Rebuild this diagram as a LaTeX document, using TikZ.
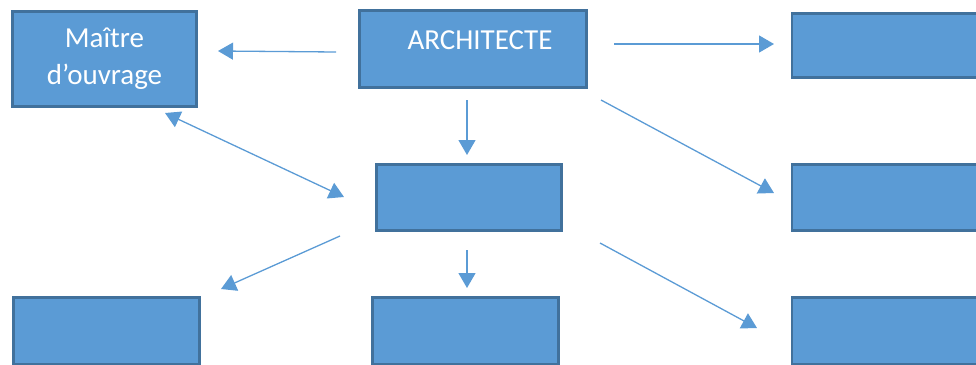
\documentclass[tikz,border=0pt]{standalone}
\usepackage{fontspec}
\setmainfont{Carlito}
\usetikzlibrary{arrows.meta}
\definecolor{boxfill}{HTML}{5B9BD5}
\definecolor{boxline}{HTML}{41719C}
\definecolor{arrowcol}{HTML}{5B9BD5}
\begin{document}
\begin{tikzpicture}[x=1pt,y=-1pt,
  box/.style={draw=boxline, fill=boxfill, line width=2.6pt, inner sep=0pt, text=white,
    font=\fontsize{29}{37}\selectfont, align=center},
  conn/.style={draw=arrowcol, line width=1.3pt, -{Triangle[length=15pt,width=17pt]}},
  conn2/.style={draw=arrowcol, line width=1.3pt, {Triangle[length=15pt,width=17pt]}-{Triangle[length=15pt,width=17pt]}}]
\useasboundingbox (0,0) rectangle (976,364);
\node[box, minimum width=184.5pt, minimum height=95.5pt] (m) at (104.5,59) {Maître\\d’ouvrage};
\node[box, minimum width=227.5pt, minimum height=77.5pt,
  label={[text=white, font=\fontsize{29}{34}\selectfont, xshift=7pt, yshift=9pt]center:ARCHITECTE}] (a) at (473,49) {};
\node[box, minimum width=185.5pt, minimum height=66.5pt] (c) at (469,197.5) {};
\node[box, minimum width=190pt, minimum height=64.5pt] (r1) at (887,45.5) {};
\node[box, minimum width=190pt, minimum height=66.5pt] (r2) at (887,197.5) {};
\node[box, minimum width=190pt, minimum height=67.5pt] (r3) at (887,331) {};
\node[box, minimum width=186.5pt, minimum height=67.5pt] (b1) at (106.5,331) {};
\node[box, minimum width=186.5pt, minimum height=67.5pt] (b2) at (465.5,331) {};
% connector ends
\coordinate (s1) at (336,52);  \coordinate (e1) at (218,51);
\coordinate (s2) at (614,44);  \coordinate (e2) at (774,44);
\coordinate (s3) at (467,100); \coordinate (e3) at (467,155);
\coordinate (s4) at (601,100); \coordinate (e4) at (774,193);
\coordinate (s5) at (165,113); \coordinate (e5) at (344,197);
\coordinate (s6) at (340,236); \coordinate (e6) at (221,289);
\coordinate (s7) at (467,250); \coordinate (e7) at (467,288);
\coordinate (s8) at (600,243); \coordinate (e8) at (757,328);
\draw[conn] (s1) -- (e1);
\draw[conn] (s2) -- (e2);
\draw[conn] (s3) -- (e3);
\draw[conn] (s4) -- (e4);
\draw[conn2] (s5) -- (e5);
\draw[conn] (s6) -- (e6);
\draw[conn] (s7) -- (e7);
\draw[conn] (s8) -- (e8);
\end{tikzpicture}
\end{document}
